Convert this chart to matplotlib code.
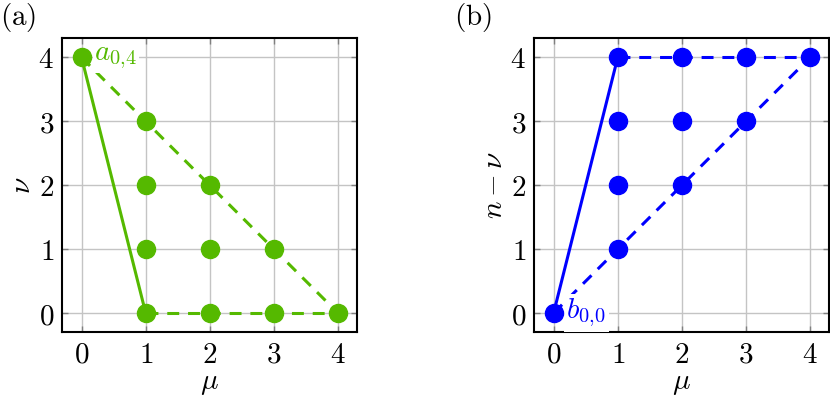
import matplotlib
matplotlib.use("Agg")
import matplotlib.pyplot as plt

plt.rcParams['mathtext.fontset'] = 'cm'

ticks = [0, 1, 2, 3, 4]
tick_labels = ['0', '1', '2', '3', '4']

# panel (a)
a_mu = [0, 1, 1, 1, 1, 2, 2, 2, 3, 3, 4]
a_nu = [4, 3, 2, 1, 0, 2, 1, 0, 1, 0, 0]
a_solid_mu = [0, 1]
a_solid_nu = [4, 0]
a_dash1_mu = [0, 4]
a_dash1_nu = [4, 0]
a_dash2_mu = [1, 4]
a_dash2_nu = [0, 0]

# panel (b)
b_mu = [0, 1, 1, 1, 1, 2, 2, 2, 3, 3, 4]
b_nmnu = [0, 1, 2, 3, 4, 2, 3, 4, 3, 4, 4]
b_solid_mu = [0, 1]
b_solid_n = [0, 4]
b_dash1_mu = [0, 4]
b_dash1_n = [0, 4]
b_dash2_mu = [1, 4]
b_dash2_n = [4, 4]

GREEN = '#55b900'
BLUE = '#0000ff'
FS = 21

fig = plt.figure(figsize=(8.3, 4.04), dpi=100)
ax1 = fig.add_axes([0.0751, 0.1775, 0.3554, 0.7277])
ax2 = fig.add_axes([0.6438, 0.1775, 0.3554, 0.7277])

LW = 2.2
dash = (0, (3.9, 2.9))

def style(ax, ylabel):
    ax.set_xlim(-0.3, 4.3)
    ax.set_ylim(-0.3, 4.3)
    ax.set_xticks(ticks)
    ax.set_yticks(ticks)
    ax.set_xticklabels([f'${t}$' for t in tick_labels], fontsize=FS)
    ax.set_yticklabels([f'${t}$' for t in tick_labels], fontsize=FS)
    ax.grid(True, color='#c4c4c4', lw=1.0, zorder=0)
    ax.set_axisbelow(True)
    ax.tick_params(direction='in', length=4, width=1.0, color='#808080',
                   top=True, right=True, pad=6)
    for s in ax.spines.values():
        s.set_linewidth(1.5)
    ax.set_xlabel(r'$\mu$', fontsize=FS, labelpad=0)
    ax.set_ylabel(ylabel, fontsize=FS, labelpad=2)

# (a)
ax1.plot(a_solid_mu, a_solid_nu, color=GREEN, lw=LW, zorder=2)
ax1.plot(a_dash1_mu, a_dash1_nu, color=GREEN, lw=LW, ls=dash, zorder=2)
ax1.plot(a_dash2_mu, a_dash2_nu, color=GREEN, lw=LW, ls=dash, zorder=2)
ax1.text(0.2, 4, r'$a_{0{,}4}$', color=GREEN, fontsize=FS, ha='left', va='center',
         zorder=3, bbox=dict(boxstyle='square,pad=0.05', fc='white', ec='none'))
ax1.plot(a_mu, a_nu, 'o', color=GREEN, ms=13, zorder=4, clip_on=False)
style(ax1, r'$\nu$')
fig.text(0.0, 0.998, r'$\mathrm{(a)}$', fontsize=FS, ha='left', va='top')

# (b)
ax2.plot(b_solid_mu, b_solid_n, color=BLUE, lw=LW, zorder=2)
ax2.plot(b_dash1_mu, b_dash1_n, color=BLUE, lw=LW, ls=dash, zorder=2)
ax2.plot(b_dash2_mu, b_dash2_n, color=BLUE, lw=LW, ls=dash, zorder=2)
ax2.text(0.2, 0.0, r'$b_{0{,}0}$', color=BLUE, fontsize=FS, ha='left', va='center',
         zorder=3, bbox=dict(boxstyle='square,pad=0.08', fc='white', ec='none'))
ax2.plot(b_mu, b_nmnu, 'o', color=BLUE, ms=13, zorder=4, clip_on=False)
style(ax2, r'$n-\nu$')
fig.text(0.5475, 0.998, r'$\mathrm{(b)}$', fontsize=FS, ha='left', va='top')

fig.savefig('out.png', dpi=100)
